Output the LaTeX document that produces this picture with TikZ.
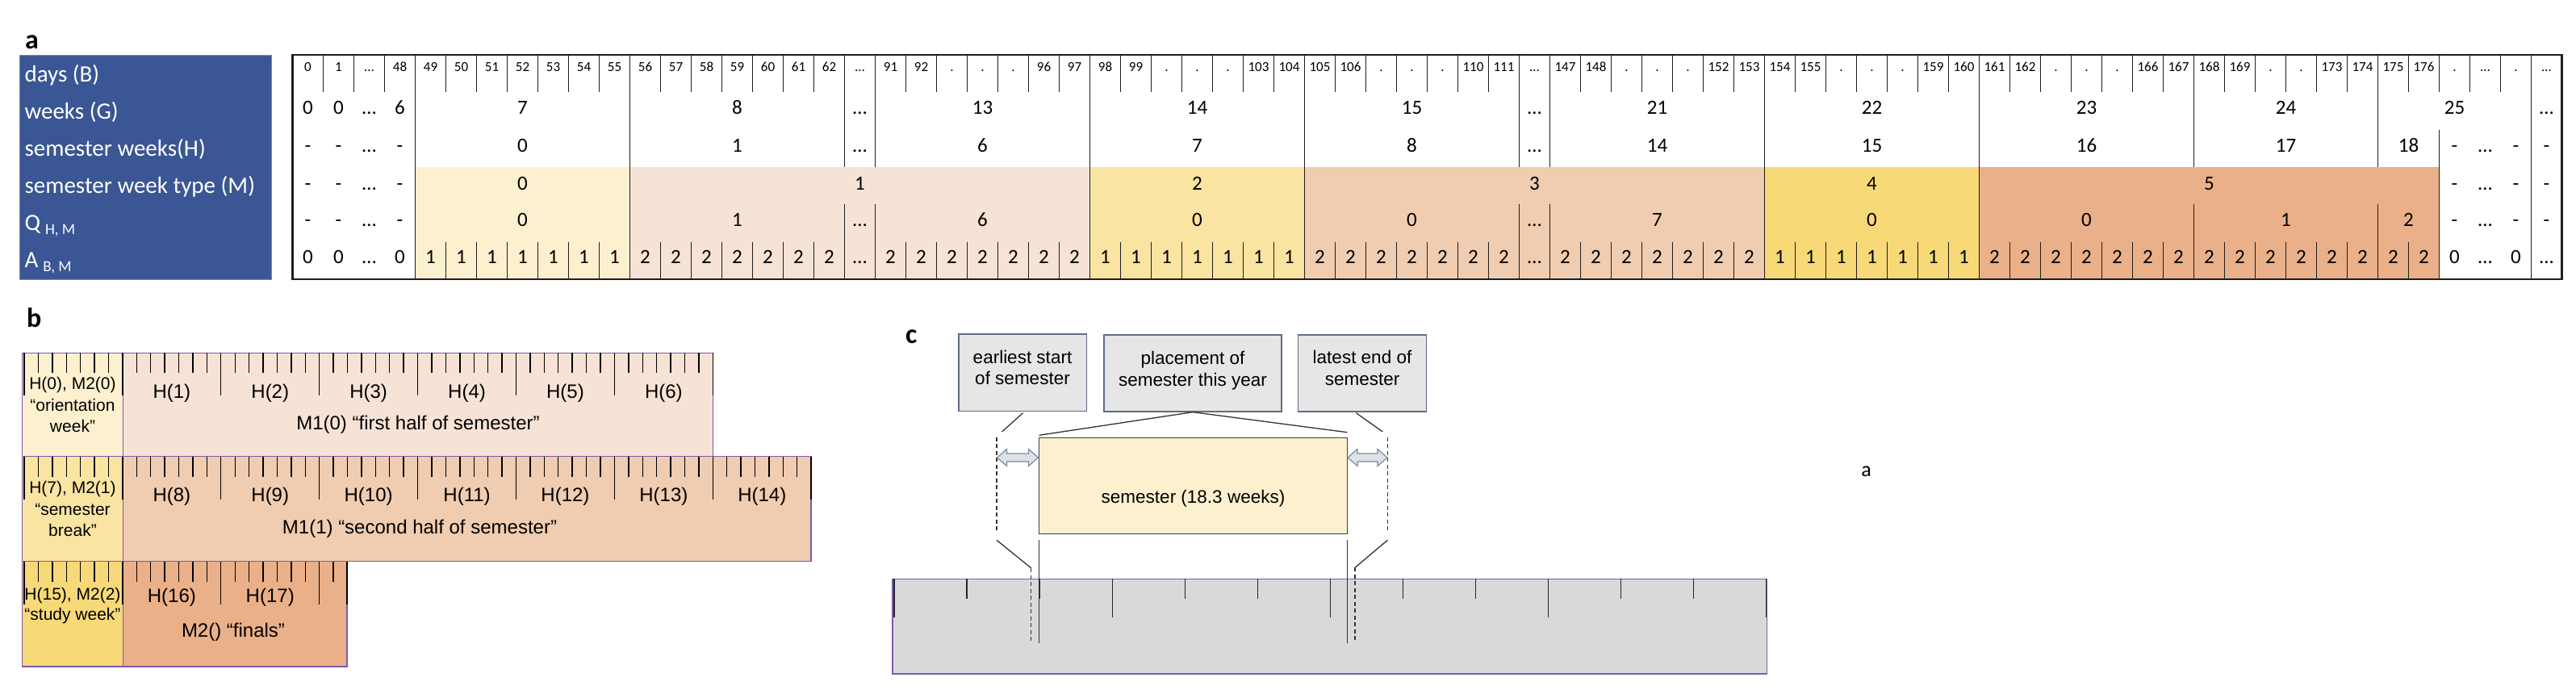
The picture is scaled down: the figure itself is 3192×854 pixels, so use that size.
\documentclass[tikz,border=0pt]{standalone}
\usepackage{fontspec}
\setmainfont{Carlito}
\newfontfamily\arialf{Liberation Sans}
\definecolor{labelblue}{RGB}{58,86,148}
\definecolor{mA}{RGB}{252,240,207}
\definecolor{mB}{RGB}{246,227,214}
\definecolor{mC}{RGB}{249,228,161}
\definecolor{mD}{RGB}{240,204,176}
\definecolor{mE}{RGB}{248,217,120}
\definecolor{mF}{RGB}{234,176,137}
\definecolor{bpurple}{RGB}{125,90,175}
\definecolor{boxgray}{RGB}{230,230,230}
\definecolor{boxedge}{RGB}{95,108,130}
\definecolor{barfill}{RGB}{217,217,217}
\definecolor{arrfill}{RGB}{222,226,232}
\definecolor{arredge}{RGB}{125,138,158}
\definecolor{gridc}{RGB}{30,30,30}
\newcommand\cx[1]{362.5+38*#1}
\newcommand\dblarr[3]{\draw[darrow] (#1,#3) -- ({#1+12},{#3-10.5}) -- ({#1+12},{#3-5}) -- ({#2-12},{#3-5}) -- ({#2-12},{#3-10.5}) -- (#2,#3) -- ({#2-12},{#3+10.5}) -- ({#2-12},{#3+5}) -- ({#1+12},{#3+5}) -- ({#1+12},{#3+10.5}) -- cycle;}
\begin{document}
\begin{tikzpicture}[x=1pt,y=-1pt,
 gridline/.style={draw=gridc,line width=1.7pt},
 daytxt/.style={font=\fontsize{17}{17}\selectfont,anchor=base,inner sep=0pt},
 celltxt/.style={font=\fontsize{25}{25}\selectfont,anchor=base,inner sep=0pt},
 rowlbl/.style={font=\fontsize{29}{29}\selectfont,text=white,anchor=base west,inner sep=0pt},
 panellbl/.style={font=\fontsize{34}{34}\selectfont\bfseries,anchor=base west,inner sep=0pt},
 bcell/.style={draw=bpurple,line width=1.5pt},
 btick/.style={draw=black,line width=1.4pt},
 btxt/.style={font=\arialf\fontsize{21}{21}\selectfont,anchor=base,inner sep=0pt},
 bhtxt/.style={font=\arialf\fontsize{24}{24}\selectfont,anchor=base,inner sep=0pt},
 cbox/.style={draw=boxedge,fill=boxgray,line width=1.3pt,inner sep=0pt},
 ctxt/.style={font=\arialf\fontsize{22.5}{22.5}\selectfont,anchor=base,inner sep=0pt},
 cline/.style={draw=black!80,line width=1.3pt},
 cdash/.style={draw=black!80,line width=1.2pt,dash pattern=on 5pt off 3.5pt},
 ctick/.style={draw=black!85,line width=1.3pt},
 darrow/.style={draw=arredge,fill=arrfill,line width=1.2pt},
]
\useasboundingbox (0,0) rectangle (3192,854);
% ---------------- part a ----------------
\node[panellbl] (pa) at (31,60) {a};
\node[fill=labelblue,draw=labelblue!70!white,line width=1pt,minimum width=312.1pt,minimum height=278pt,inner sep=0pt,anchor=north west] (lbl) at (23.6,68) {};
\node[rowlbl] (l1) at (30.4,101) {days (B)};
\node[rowlbl] (l2) at (30.4,147) {weeks (G)};
\node[rowlbl] (l3) at (30.4,193) {semester weeks(H)};
\node[rowlbl] (l4) at (30.4,239) {semester week type (M)};
\node[rowlbl] (l5) at (30.4,285) {Q\hspace{6pt}{\fontsize{19}{19}\selectfont\raisebox{-5pt}{H, M}}};
\node[rowlbl] (l6) at (30.4,331) {A\hspace{6pt}{\fontsize{19}{19}\selectfont\raisebox{-5pt}{B, M}}};
% colour bands
\foreach \a/\b/\col in {4/11/mA,11/26/mB,26/33/mC,33/48/mD,48/55/mE,55/70/mF}
  \fill[\col] ({\cx{\a}},207) rectangle ({\cx{\b}},346);
% grid lines
\foreach \k in {1,...,73} \draw[gridline] ({\cx{\k}},68) -- ({\cx{\k}},114.3);
\foreach \k in {4,11,26,33,48,55,73} \draw[gridline] ({\cx{\k}},68) -- ({\cx{\k}},346);
\foreach \k in {18,19,40,41,62,68} {\draw[gridline] ({\cx{\k}},68) -- ({\cx{\k}},207); \draw[gridline] ({\cx{\k}},253.3) -- ({\cx{\k}},346);}
\draw[gridline] ({\cx{70}},160.7) -- ({\cx{70}},346);
\foreach \a/\b in {5/10,12/17,20/25,27/32,34/39,42/47,49/54,56/61,63/67,69/69}
  \foreach \k in {\a,...,\b} \draw[gridline] ({\cx{\k}},299.7) -- ({\cx{\k}},346);
\draw[draw=gridc,line width=2.2pt] (362.5,68) rectangle (3174.5,346);
% days
\foreach \k/\t in {0/0,1/1,2/…,3/48,4/49,5/50,6/51,7/52,8/53,9/54,10/55,11/56,12/57,13/58,14/59,15/60,16/61,17/62,18/…,19/91,20/92,21/.,22/.,23/.,24/96,25/97,26/98,27/99,28/.,29/.,30/.,31/103,32/104,33/105,34/106,35/.,36/.,37/.,38/110,39/111,40/…,41/147,42/148,43/.,44/.,45/.,46/152,47/153,48/154,49/155,50/.,51/.,52/.,53/159,54/160,55/161,56/162,57/.,58/.,59/.,60/166,61/167,62/168,63/169,64/.,65/.,66/173,67/174,68/175,69/176,70/.,71/…,72/.,73/…}
  \node[daytxt] (d\k) at ({\cx{\k}+19},88.5) {\t};
% weeks
\foreach \a/\b/\t in {0/1/0,1/2/0,2/3/…,3/4/6,4/11/7,11/18/8,18/19/…,19/26/13,26/33/14,33/40/15,40/41/…,41/48/21,48/55/22,55/62/23,62/68/24,68/73/25,73/74/…}
  \node[celltxt] (w\a) at ({362.5+19*(\a+\b)},141.7) {\t};
% semester weeks H
\foreach \a/\b/\t in {0/1/-,1/2/-,2/3/…,3/4/-,4/11/0,11/18/1,18/19/…,19/26/6,26/33/7,33/40/8,40/41/…,41/48/14,48/55/15,55/62/16,62/68/17,68/70/18,70/71/-,71/72/…,72/73/-,73/74/-}
  \node[celltxt] (h\a) at ({362.5+19*(\a+\b)},188) {\t};
% week type M
\foreach \a/\b/\t in {0/1/-,1/2/-,2/3/…,3/4/-,4/11/0,11/26/1,26/33/2,33/48/3,48/55/4,55/70/5,70/71/-,71/72/…,72/73/-,73/74/-}
  \node[celltxt] (m\a) at ({362.5+19*(\a+\b)},235) {\t};
% Q
\foreach \a/\b/\t in {0/1/-,1/2/-,2/3/…,3/4/-,4/11/0,11/18/1,18/19/…,19/26/6,26/33/0,33/40/0,40/41/…,41/48/7,48/55/0,55/62/0,62/68/1,68/70/2,70/71/-,71/72/…,72/73/-,73/74/-}
  \node[celltxt] (q\a) at ({362.5+19*(\a+\b)},280) {\t};
% A
\foreach \k/\t in {0/0,1/0,2/…,3/0,18/…,40/…,70/0,71/…,72/0,73/…}
  \node[celltxt] (ax\k) at ({\cx{\k}+19},326.5) {\t};
\foreach \a/\b in {4/10,26/32,48/54}
  \foreach \k in {\a,...,\b} \node[celltxt] (ao\k) at ({\cx{\k}+19},326.5) {1};
\foreach \a/\b in {11/17,19/25,33/39,41/47,55/69}
  \foreach \k in {\a,...,\b} \node[celltxt] (at\k) at ({\cx{\k}+19},326.5) {2};
% ---------------- part b ----------------
\node[panellbl] (pb) at (33,405) {b};
\draw[bcell,fill=mB] (152.5,437.3) rectangle (883.3,565.7);
\draw[bcell,fill=mA] (27.5,437.3) rectangle (152.5,565.7);
\draw[bcell,fill=mD] (152.5,565.7) rectangle (1005.2,695.7);
\draw[bcell,fill=mC] (27.5,565.7) rectangle (152.5,695.7);
\draw[bcell,fill=mF] (152.5,695.7) rectangle (430,826);
\draw[bcell,fill=mE] (27.5,695.7) rectangle (152.5,826);
\foreach \T/\J in {437.3/49,565.7/56,695.7/23}
  \foreach \j in {0,...,\J} {
    \pgfmathtruncatemacro\mm{mod(\j,7)}
    \pgfmathsetmacro\xx{30+17.414*\j}
    \ifnum\mm=0 \draw[btick] (\xx,\T) -- ++(0,53); \else \draw[btick] (\xx,\T) -- ++(0,25); \fi
  }
\draw[btick] (430,695.7) -- ++(0,53);
\node[btxt] (b1a) at (90,482.5) {H(0), M2(0)};
\node[btxt] (b1b) at (90,509) {“orientation};
\node[btxt] (b1c) at (90,535) {week”};
\node[btxt] (b2a) at (90,611.5) {H(7), M2(1)};
\node[btxt] (b2b) at (90,638) {“semester};
\node[btxt] (b2c) at (90,664.5) {break”};
\node[btxt] (b3a) at (90,743) {H(15), M2(2)};
\node[btxt] (b3b) at (90,768.5) {“study week”};
\foreach \n in {1,...,6} \node[bhtxt] (bh\n) at ({30+121.9*(\n+0.5)},493) {H(\n)};
\foreach \n in {8,...,14} \node[bhtxt] (bh\n) at ({30+121.9*(\n-6.5)},621.5) {H(\n)};
\foreach \n in {16,17} \node[bhtxt] (bh\n) at ({30+121.9*(\n-14.5)},746.5) {H(\n)};
\node[bhtxt] (bm1) at (518,532) {M1(0) “first half of semester”};
\node[bhtxt] (bm2) at (520,661.5) {M1(1) “second half of semester”};
\node[bhtxt] (bm3) at (289,789) {M2() “finals”};
% ---------------- part c ----------------
\node[panellbl] (pc) at (1122,425) {c};
\node[cbox,minimum width=158.5pt,minimum height=95.3pt] (es) at (1267.3,461.7) {};
\node[cbox,minimum width=220pt,minimum height=95pt] (pl) at (1478,462.5) {};
\node[cbox,minimum width=159pt,minimum height=95pt] (le) at (1688.2,462.5) {};
\node[ctxt] (es1) at (1267,450) {earliest start};
\node[ctxt] (es2) at (1267,476.7) {of semester};
\node[ctxt] (pl1) at (1478,451.7) {placement of};
\node[ctxt] (pl2) at (1478,478) {semester this year};
\node[ctxt] (le1) at (1688,450) {latest end of};
\node[ctxt] (le2) at (1688,477) {semester};
\node[draw=black!75,fill=mA,line width=1.3pt,minimum width=381.7pt,minimum height=119pt,inner sep=0pt] (sem) at (1478.5,602.2) {};
\node[ctxt] (semt) at (1478.5,623.3) {semester (18.3 weeks)};
\node[draw=bpurple,fill=barfill,line width=1.5pt,minimum width=1083.3pt,minimum height=117.7pt,inner sep=0pt] (bar) at (1647.6,776.2) {};
\foreach \k in {0,...,12} {
  \pgfmathtruncatemacro\mm{mod(\k,3)}
  \pgfmathsetmacro\xx{1108.1+90.03*\k}
  \ifnum\mm=0 \draw[ctick] (\xx,717.3) -- (\xx,765); \else \draw[ctick] (\xx,717.3) -- (\xx,741.7); \fi
}
\coordinate (plL) at (1287.6,539.3);
\coordinate (plR) at (1669.3,535.7);
\draw[cline] (pl.south) -- (plL);
\draw[cline] (pl.south) -- (plR);
\coordinate (esA) at (1267.5,511.7);
\coordinate (esB) at (1241.6,535);
\coordinate (ldT) at (1235,541.7);
\coordinate (ldB) at (1235,660);
\coordinate (lsA) at (1235,669.3);
\coordinate (lsB) at (1277.8,704);
\coordinate (lsC) at (1277.8,796.7);
\coordinate (svA) at (1287.6,669.3);
\coordinate (svB) at (1287.6,796.7);
\draw[cline] (esA) -- (esB);
\draw[cdash] (ldT) -- (ldB);
\draw[cline] (lsA) -- (lsB);
\draw[cdash] (lsB) -- (lsC);
\draw[cline] (svA) -- (svB);
\coordinate (leA) at (1680.4,511.7);
\coordinate (leB) at (1713.3,535);
\coordinate (rdT) at (1719.4,541.7);
\coordinate (rdB) at (1719.4,660);
\coordinate (rsA) at (1719.4,669.3);
\coordinate (rsB) at (1679,703.3);
\coordinate (rsC) at (1679,796.7);
\coordinate (evA) at (1669.3,669.3);
\coordinate (evB) at (1669.3,796.7);
\draw[cline] (leA) -- (leB);
\draw[cdash] (rdT) -- (rdB);
\draw[cline] (rsA) -- (rsB);
\draw[cdash] (rsB) -- (rsC);
\draw[cline] (evA) -- (evB);
\dblarr{1235.5}{1286.5}{567}
\dblarr{1670}{1719}{567}
\node[font=\fontsize{26}{26}\selectfont,anchor=base,inner sep=0pt] (stray) at (2312.5,590) {a};
\end{tikzpicture}
\end{document}
